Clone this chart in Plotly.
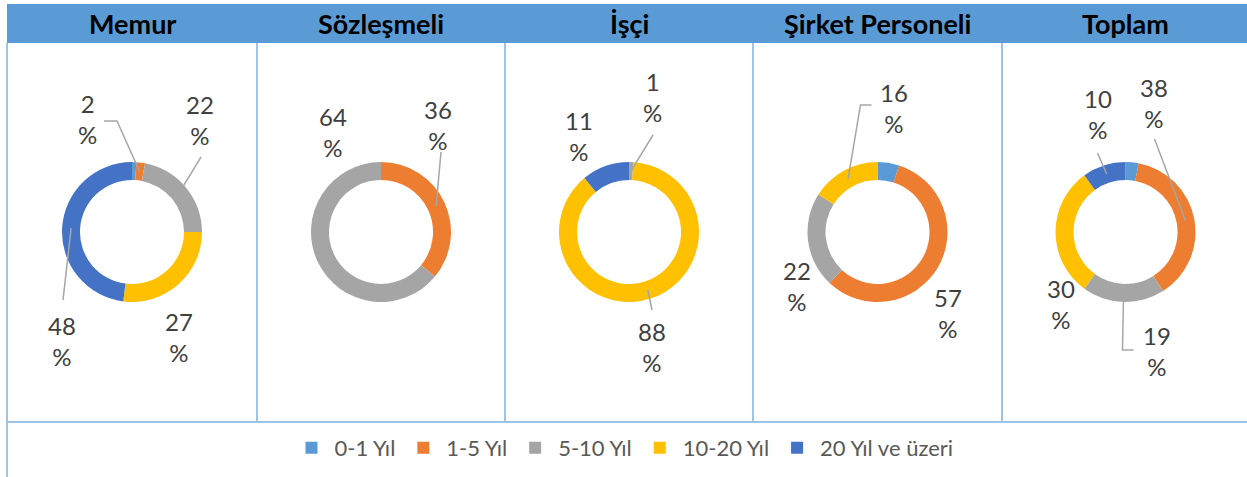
import math
import plotly.graph_objects as go

# ---------------- data ----------------
categories = ["0-1 Yıl", "1-5 Yıl", "5-10 Yıl", "10-20 Yıl", "20 Yıl ve üzeri"]
groups = ["Memur", "Sözleşmeli", "İşçi", "Şirket Personeli", "Toplam"]
memur = [1, 2, 22, 27, 48]
sozlesmeli = [0, 36, 64, 0, 0]
isci = [0, 0, 1, 88, 11]
sirket = [5, 57, 22, 16, 0]
toplam = [3, 38, 19, 30, 10]
series = [memur, sozlesmeli, isci, sirket, toplam]

# ---------------- style / layout ----------------
colors = ["#5B9BD5", "#ED7D31", "#A5A5A5", "#FFC000", "#4472C4"]
W, H = 1247, 477
panel_edges = [7, 257, 505, 753, 1002, 1249]
header_top, header_bottom, grid_bottom = 4, 43, 422
pie_cy, pie_r, hole = 232, 70, 0.743
ring_mid = pie_r * (1 + hole) / 2
line_col = "#9DC3E6"
FONT = "Lato"

# label placement (offsets in px relative to pie centre), like Excel's manual label layout
# key: (group index, category index) -> (text dx, dy, leader path points relative to centre or None)
label_layout = {
    (0, 1): (-45, -113, [(-15, -111), (-28, -111)]),
    (0, 2): (68, -112, [(69, -75)]),
    (0, 3): (47, 105, None),
    (0, 4): (-70, 109, [(-69, 68)]),
    (1, 1): (57, -107, [(60, -80)]),
    (1, 2): (-48, -100, None),
    (2, 2): (23, -135, [(24, -97)]),
    (2, 3): (23, 115, [(23, 78)]),
    (2, 4): (-50, -96, None),
    (3, 1): (70, 81, None),
    (3, 2): (-81, 54, None),
    (3, 3): (16, -124, [(-17, -127), (-6, -127)]),
    (4, 1): (28, -129, [(29, -93)]),
    (4, 2): (31, 119, [(-3, 118), (8, 118)]),
    (4, 3): (-65, 72, None),
    (4, 4): (-28, -118, [(-28, -79)]),
}


def px(x):
    return x / W


def py(y):
    return 1 - y / H


fig = go.Figure()
shapes = []
annotations = []

centers = [(panel_edges[i] + panel_edges[i + 1]) / 2 for i in range(len(groups))]

for gi, (name, vals) in enumerate(zip(groups, series)):
    cx = centers[gi]
    fig.add_trace(go.Pie(
        labels=categories, values=vals, name=name,
        hole=hole, sort=False, direction="clockwise", rotation=0,
        marker=dict(colors=colors, line=dict(width=0)),
        textinfo="none", hoverinfo="label+value",
        domain=dict(x=[px(cx - pie_r), px(cx + pie_r)],
                    y=[py(pie_cy + pie_r), py(pie_cy - pie_r)]),
        showlegend=(gi == 0),
    ))
    total = sum(vals)
    cum = 0
    for ci, v in enumerate(vals):
        mid = (cum + v / 2) / total * 2 * math.pi
        cum += v
        if (gi, ci) not in label_layout:
            continue
        dx, dy, leader = label_layout[(gi, ci)]
        annotations.append(dict(
            x=px(cx + dx), y=py(pie_cy + dy), xref="paper", yref="paper",
            text=f"{v}<br>%", showarrow=False, xanchor="center", yanchor="middle",
            font=dict(family=FONT, size=24, color="#404040"),
        ))
        if leader:
            sx = cx + ring_mid * math.sin(mid)
            sy = pie_cy - ring_mid * math.cos(mid)
            path = f"M{px(sx)},{py(sy)}"
            for (lx, ly) in leader:
                path += f" L{px(cx + lx)},{py(pie_cy + ly)}"
            shapes.append(dict(type="path", path=path, xref="paper", yref="paper",
                               line=dict(color="#A6A6A6", width=1.5)))
    # title
    annotations.append(dict(
        x=px(cx), y=py((header_top + header_bottom) / 2), xref="paper", yref="paper",
        text=name, showarrow=False, xanchor="center", yanchor="middle",
        font=dict(family=FONT, size=27, color="#000000", weight="bold"),
    ))

# header bar
shapes.insert(0, dict(type="rect", xref="paper", yref="paper",
                      x0=px(panel_edges[0]), x1=1, y0=py(header_bottom), y1=py(header_top),
                      fillcolor="#5B9BD5", line=dict(width=0), layer="below"))
# left border
shapes.append(dict(type="line", xref="paper", yref="paper",
                   x0=px(panel_edges[0]), x1=px(panel_edges[0]), y0=py(header_bottom), y1=0,
                   line=dict(color=line_col, width=2)))
# separators
for e in panel_edges[1:-1]:
    shapes.append(dict(type="line", xref="paper", yref="paper",
                       x0=px(e), x1=px(e), y0=py(header_bottom), y1=py(grid_bottom),
                       line=dict(color=line_col, width=2)))
# bottom line of grid
shapes.append(dict(type="line", xref="paper", yref="paper",
                   x0=px(panel_edges[0]), x1=1, y0=py(grid_bottom), y1=py(grid_bottom),
                   line=dict(color=line_col, width=2)))

fig.update_layout(
    width=W, height=H,
    margin=dict(l=0, r=0, t=0, b=0),
    paper_bgcolor="white", plot_bgcolor="white",
    shapes=shapes, annotations=annotations,
    legend=dict(orientation="h", x=0.5, xanchor="center", y=py(448), yanchor="middle",
                font=dict(family=FONT, size=22, color="#595959"),
                itemwidth=36,
                bgcolor="rgba(0,0,0,0)", itemclick=False),
)

fig.write_html("out.html", config={"displayModeBar": False},
               post_script="document.body.style.margin='0';")
